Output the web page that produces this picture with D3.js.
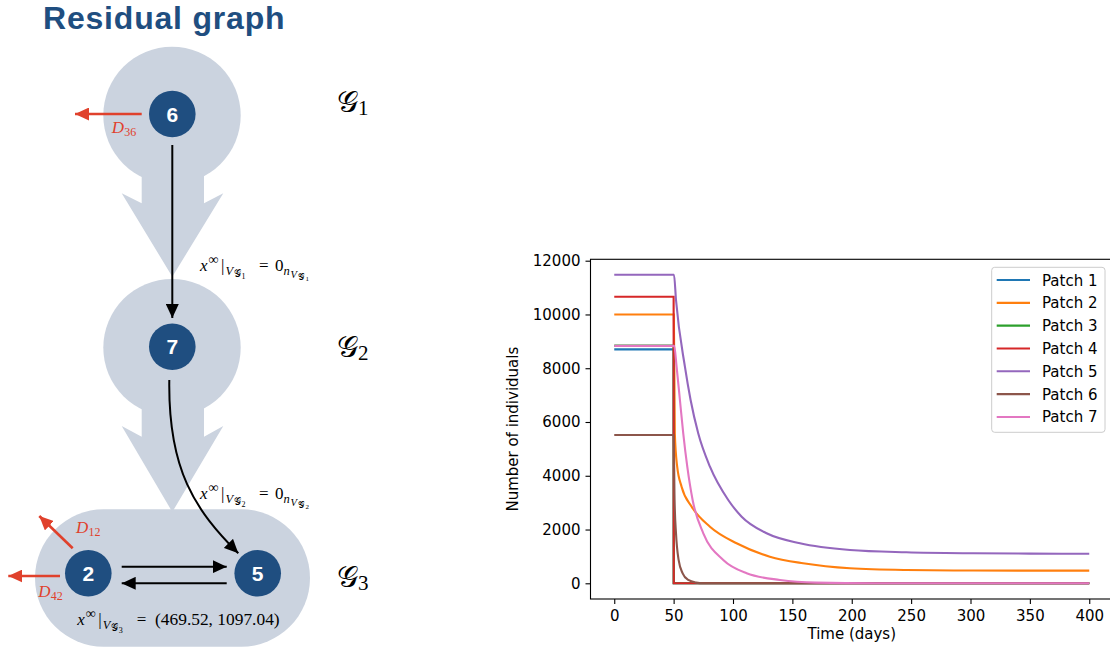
<!DOCTYPE html>
<html><head><meta charset="utf-8">
<script src="https://cdn.jsdelivr.net/npm/d3@7"></script>
<style>body{margin:0;background:#fff}svg{display:block}text{white-space:pre}</style>
</head><body>
<svg id="c" width="1110" height="655"></svg>
<script>
// ---------- data ----------
const patchNames = ["Patch 1","Patch 2","Patch 3","Patch 4","Patch 5","Patch 6","Patch 7"];
const patchColors = ["#1f77b4","#ff7f0e","#2ca02c","#d62728","#9467bd","#8c564b","#e377c2"];
const p1T = [0, 50, 50.1, 400];
const p1V = [8700, 8700, 0, 0];
const p2T = [0, 50.2, 51, 53, 56.7, 65.2, 80.6, 103, 131, 159, 198.5, 246, 302, 350, 400];
const p2V = [10000, 10000, 5580, 4337, 3595, 2850, 2105, 1488, 992, 744, 558, 495, 475, 471, 470];
const p3T = [0, 50, 50.1, 400];
const p3V = [8840, 8840, 0, 0];
const p4T = [0, 50, 50.1, 400];
const p4V = [10660, 10660, 0, 0];
const p5T = [0, 50.3, 52, 59.5, 64.3, 70.7, 80.6, 96, 107.3, 128.3, 156.4, 198.5, 246, 302, 350, 400];
const p5V = [11480, 11480, 10538, 8057, 6818, 5580, 4337, 3099, 2477, 1860, 1488, 1239, 1153, 1116, 1104, 1097];
const p6T = [0, 50, 50.8, 52, 54.2, 57.6, 62.3, 69, 75, 400];
const p6V = [5516, 5516, 3099, 1860, 868, 372, 124, 25, 0, 0];
const p7T = [0, 50.5, 52.5, 55.3, 58.1, 61.5, 66, 75, 91.8, 111.5, 139.5, 170, 220, 400];
const p7V = [8830, 8830, 8057, 6818, 5580, 4337, 3099, 1860, 868, 372, 124, 25, 3, 0];
const seriesT = [p1T, p2T, p3T, p4T, p5T, p6T, p7T];
const seriesV = [p1V, p2V, p3V, p4V, p5V, p6V, p7V];
const xTicks = [0, 50, 100, 150, 200, 250, 300, 350, 400];
const yTicks = [0, 2000, 4000, 6000, 8000, 10000, 12000];
const steadyState = "(469.52, 1097.04)";

const svg = d3.select("#c");

// ---------- line chart ----------
const x = d3.scaleLinear().domain([-20, 420]).range([590.5, 1113]);
const y = d3.scaleLinear().domain([-584, 12052]).range([599, 259.3]);
const chart = svg.append("g");
const line = d3.line().x(d => x(d[0])).y(d => y(d[1])).curve(d3.curveMonotoneX);
seriesT.forEach((ts, i) => {
  const pts = ts.map((t, j) => [t, seriesV[i][j]]);
  chart.append("path").attr("d", line(pts)).attr("fill", "none")
    .attr("stroke", patchColors[i]).attr("stroke-width", 2.1);
});
const fontAx = "DejaVu Sans";
const gx = chart.append("g").attr("transform", "translate(0,599)")
  .call(d3.axisBottom(x).tickValues(xTicks).tickFormat(d3.format("d")).tickSize(5).tickPadding(6).tickSizeOuter(0));
const gy = chart.append("g").attr("transform", "translate(590.5,0)")
  .call(d3.axisLeft(y).tickValues(yTicks).tickFormat(d3.format("d")).tickSize(5).tickPadding(5).tickSizeOuter(0));
[gx, gy].forEach(g => {
  g.select(".domain").remove();
  g.selectAll("text").attr("font-family", fontAx).attr("font-size", 15).attr("fill", "#000");
  g.selectAll("line").attr("stroke", "#000").attr("stroke-width", 1.1);
});
chart.append("rect").attr("x", x(-20)).attr("y", y(12052)).attr("width", x(420) - x(-20))
  .attr("height", y(-584) - y(12052)).attr("fill", "none").attr("stroke", "#000").attr("stroke-width", 1.1);
chart.append("text").attr("x", (x(-20) + x(420)) / 2).attr("y", 639).attr("text-anchor", "middle")
  .attr("font-family", fontAx).attr("font-size", 15).text("Time (days)");
chart.append("text").attr("transform", `translate(518,${(y(-584) + y(12052)) / 2}) rotate(-90)`)
  .attr("text-anchor", "middle").attr("font-family", fontAx).attr("font-size", 15).text("Number of individuals");
// legend
const lg = chart.append("g");
lg.append("rect").attr("x", 991.7).attr("y", 267.3).attr("width", 113.3).attr("height", 165).attr("rx", 3)
  .attr("fill", "#fff").attr("fill-opacity", 0.8).attr("stroke", "#cccccc");
patchNames.forEach((n, i) => {
  const yy = 280 + i * 22.83;
  lg.append("line").attr("x1", 996.7).attr("x2", 1030).attr("y1", yy).attr("y2", yy)
    .attr("stroke", patchColors[i]).attr("stroke-width", 2.1);
  lg.append("text").attr("x", 1042).attr("y", yy + 5.5).attr("font-family", fontAx).attr("font-size", 15).text(n);
});

// ---------- diagram ----------
const blob = "#cbd3df", nodeC = "#1f4e80", redC = "#e0412c";
const dg = svg.append("g");
dg.append("text").attr("x", 43).attr("y", 29).attr("font-family", "Liberation Sans, Arial, sans-serif")
  .attr("font-weight", "bold").attr("font-size", 32).attr("letter-spacing", 0.8).attr("fill", nodeC).text("Residual graph");

const defs = svg.append("defs");
function marker(id, color, len, wid) {
  defs.append("marker").attr("id", id).attr("markerUnits", "userSpaceOnUse")
    .attr("markerWidth", len).attr("markerHeight", wid).attr("refX", len).attr("refY", wid / 2)
    .attr("orient", "auto").append("path")
    .attr("d", `M0,0 L${len},${wid / 2} L0,${wid} Z`).attr("fill", color);
}
marker("ab", "#000", 14, 13);
marker("ar", redC, 14, 13);

// blobs
dg.append("circle").attr("cx", 172).attr("cy", 115.4).attr("r", 68.7).attr("fill", blob);
dg.append("circle").attr("cx", 172).attr("cy", 347.7).attr("r", 68.7).attr("fill", blob);
dg.append("rect").attr("x", 35).attr("y", 509.3).attr("width", 275).attr("height", 137.4).attr("rx", 68.7).attr("fill", blob);
function bigArrow(yTop, yNotch, yWing, yApex) {
  return `M141.7,${yTop} L141.7,${yNotch} L121.7,${yWing} L172.3,${yApex} L223.3,${yWing} L204,${yNotch} L204,${yTop} Z`;
}
dg.append("path").attr("d", bigArrow(170, 203.3, 193.3, 276.7)).attr("fill", blob);
dg.append("path").attr("d", bigArrow(400, 436.7, 426, 512)).attr("fill", blob);

// edges
const edge = (d, m, c, w) => dg.append("path").attr("d", d).attr("fill", "none").attr("stroke", c)
  .attr("stroke-width", w).attr("marker-end", `url(#${m})`);
edge("M172.3,145 L172.3,318", "ab", "#000", 2);
edge("M169.3,380 C168,470 195,510 238.3,553.3", "ab", "#000", 2);
edge("M121.7,566.7 L226.7,566.7", "ab", "#000", 2);
edge("M226.7,583.3 L121.7,583.3", "ab", "#000", 2);
edge("M141.7,114 L75,114", "ar", redC, 2.6);
edge("M72.7,548.3 L39.3,516", "ar", redC, 2.6);
edge("M60,576 L8.3,576", "ar", redC, 2.6);

// nodes
[[6, 172.3, 114], [7, 172.3, 346.7], [2, 88.3, 573.3], [5, 257.7, 573.3]].forEach(([lab, cx, cy]) => {
  dg.append("circle").attr("cx", cx).attr("cy", cy).attr("r", 23.3).attr("fill", nodeC);
  dg.append("text").attr("x", cx).attr("y", cy + 7.5).attr("text-anchor", "middle")
    .attr("font-family", "Liberation Sans, Arial, sans-serif").attr("font-weight", "bold")
    .attr("font-size", 21).attr("fill", "#fff").text(lab);
});

// math text: each piece placed explicitly
const serif = "Liberation Serif, DejaVu Serif, serif";
const scriptG = "\u{1D4A2}";
function piece(px, py, s, size, italic, color) {
  dg.append("text").attr("x", px).attr("y", py).attr("font-family", serif).attr("font-size", size)
    .attr("font-style", italic ? "italic" : "normal").attr("fill", color || "#000").text(s);
}
function dLabel(x0, b, sub) {
  piece(x0, b, "D", 17, true, redC);
  piece(x0 + 12.5, b + 3, sub, 12, false, redC);
}
dLabel(111.7, 133, "36");
dLabel(76, 533, "12");
dLabel(38.3, 597, "42");

function prefix(x0, b, k) {
  piece(x0, b, "x", 17, true);
  piece(x0 + 8.5, b - 7, "\u221E", 14);
  piece(x0 + 21, b, "|", 17);
  piece(x0 + 25.5, b + 4, "V", 12.5, true);
  piece(x0 + 33.5, b + 6, scriptG, 10);
  piece(x0 + 41.5, b + 8, k, 8);
}
function zeroLabel(x0, b, k) {
  prefix(x0, b, k);
  piece(x0 + 59, b, "=", 17);
  piece(x0 + 75, b, "0", 17);
  piece(x0 + 83.5, b + 4, "n", 12.5, true);
  piece(x0 + 90.5, b + 6.5, "V", 10.5, true);
  piece(x0 + 97.5, b + 8.5, scriptG, 9);
  piece(x0 + 105.5, b + 10, k, 7);
}
zeroLabel(200, 271, "1");
zeroLabel(200, 499, "2");
prefix(77.3, 625, "3");
piece(136.7, 625, "=", 17);
piece(155, 625, steadyState, 17.4);

// G labels
[["1", 112], ["2", 357], ["3", 587]].forEach(([k, by]) => {
  piece(337, by, scriptG, 30);
  piece(358, by + 3, k, 21);
});
</script>
</body></html>
